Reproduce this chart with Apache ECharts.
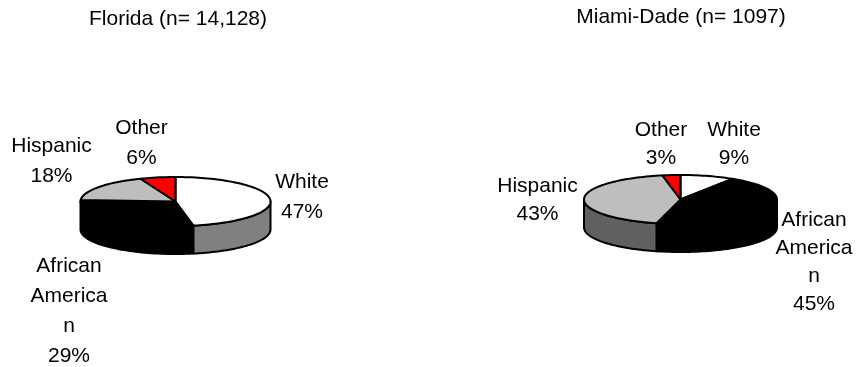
<!DOCTYPE html>
<html>
<head>
<meta charset="utf-8">
<style>html,body{margin:0;padding:0;background:#fff}#chart{width:856px;height:367px}</style>
<script src="https://cdn.jsdelivr.net/npm/echarts@6/dist/echarts.min.js"></script>
</head>
<body>
<div id="chart"></div>
<script>
// Ethnic distribution, statewide and county
const categoryLabels = ['White', 'African\nAmerica\nn', 'Hispanic', 'Other'];
const floridaValues = [47, 29, 18, 6];
const miamiValues = [9, 45, 43, 3];
const floridaTitle = 'Florida (n= 14,128)';
const miamiTitle = 'Miami-Dade (n= 1097)';

const topColors = ['#ffffff', '#000000', '#bebebe', '#ff0000'];
const sideColors = ['#808080', '#000000', '#606060', '#800000'];
const FONT = '21px "Liberation Sans", Arial, sans-serif';

const floridaLayout = {
  cx: 175.5, cy: 201.5, rx: 95, ry: 24.5, depth: 28, lineHeight: 30,
  labels: [[302, 197.5], [69, 311], [51.5, 161], [141.5, 143]]
};
const miamiLayout = {
  cx: 680.5, cy: 199.5, rx: 96.5, ry: 24.5, depth: 28, lineHeight: 28,
  labels: [[734, 144], [814, 262.5], [537.5, 200.5], [661, 144]]
};

// Point on the tilted disc; angle runs clockwise from twelve o'clock, in degrees
function rimPoint(g, deg, drop) {
  const a = deg * Math.PI / 180;
  return [g.cx + g.rx * Math.sin(a), g.cy - g.ry * Math.cos(a) + (drop || 0)];
}

function arcPoints(g, from, to, drop) {
  const pts = [];
  const steps = Math.max(2, Math.ceil(Math.abs(to - from) / 2));
  for (let i = 0; i <= steps; i++) {
    pts.push(rimPoint(g, from + (to - from) * i / steps, drop));
  }
  return pts;
}

function pieSeries(values, g) {
  const total = values.reduce((s, v) => s + v, 0);
  const edges = [0];
  values.forEach(v => edges.push(edges[edges.length - 1] + v / total * 360));
  return {
    type: 'custom',
    coordinateSystem: 'none',
    silent: true,
    animation: false,
    data: values,
    renderItem(params) {
      const i = params.dataIndex;
      const start = edges[i], end = edges[i + 1];
      const stroke = { stroke: '#000', lineWidth: 2, lineJoin: 'round' };
      const children = [];

      // Only the near half of the rim shows a wall
      const wallFrom = Math.max(start, 90), wallTo = Math.min(end, 270);
      if (wallTo > wallFrom) {
        children.push({
          type: 'polygon',
          z2: 1,
          shape: { points: arcPoints(g, wallFrom, wallTo, 0).concat(arcPoints(g, wallTo, wallFrom, g.depth)) },
          style: Object.assign({ fill: sideColors[i] }, stroke)
        });
      }
      children.push({
        type: 'polygon',
        z2: 2,
        shape: { points: [[g.cx, g.cy]].concat(arcPoints(g, start, end, 0)) },
        style: Object.assign({ fill: topColors[i] }, stroke)
      });
      children.push({
        type: 'text',
        z2: 3,
        style: {
          x: g.labels[i][0],
          y: g.labels[i][1],
          text: categoryLabels[i] + '\n' + values[i] + '%',
          font: FONT,
          fill: '#000',
          align: 'center',
          verticalAlign: 'middle',
          lineHeight: g.lineHeight
        }
      });
      return { type: 'group', children };
    }
  };
}

const chart = echarts.init(document.getElementById('chart'), null, { renderer: 'canvas' });
chart.setOption({
  backgroundColor: '#fff',
  animation: false,
  title: [
    { text: floridaTitle, left: 173, top: 4, textAlign: 'center',
      textStyle: { fontFamily: '"Liberation Sans", Arial, sans-serif', fontSize: 21, fontWeight: 'normal', color: '#000' } },
    { text: miamiTitle, left: 676, top: 2, textAlign: 'center',
      textStyle: { fontFamily: '"Liberation Sans", Arial, sans-serif', fontSize: 21, fontWeight: 'normal', color: '#000' } }
  ],
  series: [pieSeries(floridaValues, floridaLayout), pieSeries(miamiValues, miamiLayout)]
});
</script>
</body>
</html>
